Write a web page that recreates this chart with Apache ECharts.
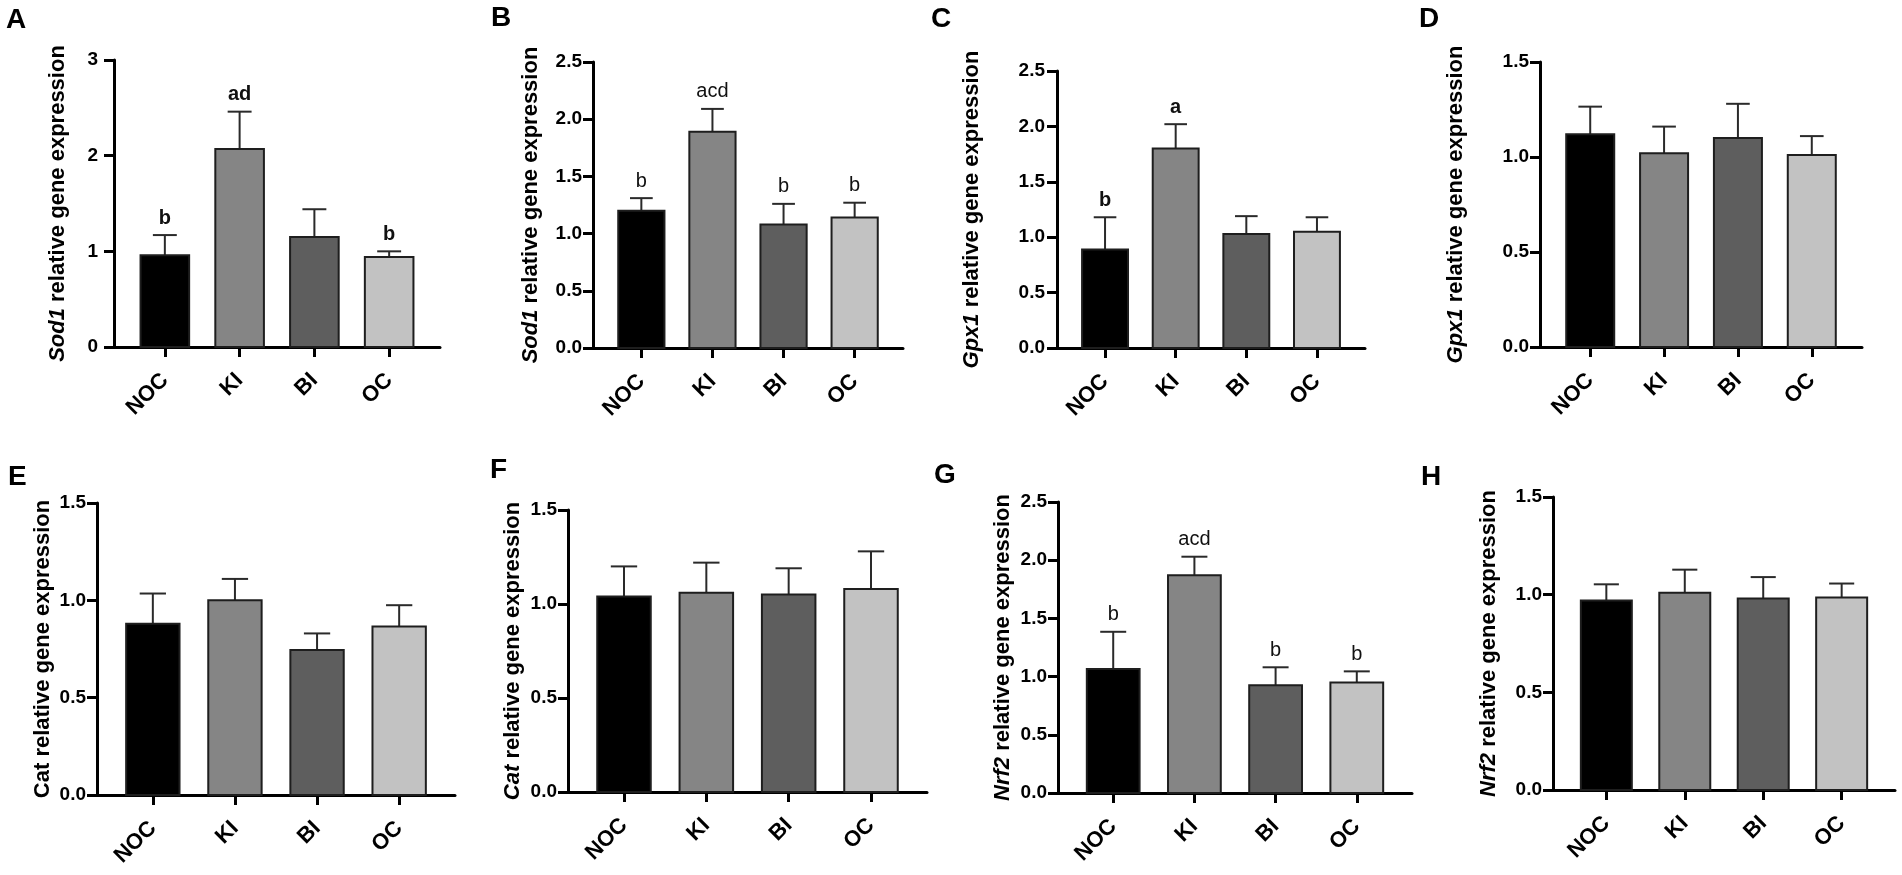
<!DOCTYPE html>
<html>
<head>
<meta charset="utf-8">
<title>Relative gene expression</title>
<script src="https://cdn.jsdelivr.net/npm/echarts@6/dist/echarts.min.js"></script>
<style>
  html, body { margin: 0; padding: 0; background: #fff; }
  #chart { width: 1902px; height: 875px; }
</style>
</head>
<body>
<div id="chart"></div>
<script>
// groups on the x axis
var groups = ['NOC', 'KI', 'BI', 'OC'];

// mean, SEM and significance letters
var sod1A = [0.96, 2.07, 1.15, 0.94];
var sod1A_sem = [0.21, 0.39, 0.29, 0.06];
var sod1A_sig = ['b', 'ad', '', 'b'];

var sod1B = [1.20, 1.89, 1.08, 1.14];
var sod1B_sem = [0.11, 0.20, 0.18, 0.13];
var sod1B_sig = ['b', 'acd', 'b', 'b'];

var gpx1C = [0.89, 1.80, 1.03, 1.05];
var gpx1C_sem = [0.29, 0.22, 0.16, 0.13];
var gpx1C_sig = ['b', 'a', '', ''];

var gpx1D = [1.12, 1.02, 1.10, 1.01];
var gpx1D_sem = [0.145, 0.14, 0.18, 0.10];

var catE = [0.88, 1.00, 0.745, 0.865];
var catE_sem = [0.155, 0.11, 0.085, 0.11];

var catF = [1.04, 1.06, 1.05, 1.08];
var catF_sem = [0.16, 0.16, 0.14, 0.20];

var nrf2G = [1.065, 1.87, 0.925, 0.95];
var nrf2G_sem = [0.32, 0.16, 0.155, 0.095];
var nrf2G_sig = ['b', 'acd', 'b', 'b'];

var nrf2H = [0.97, 1.01, 0.98, 0.985];
var nrf2H_sem = [0.083, 0.118, 0.11, 0.072];

// y axis ranges: [max, step]
var yTicksA = [3, 1];
var yTicks25 = [2.5, 0.5];
var yTicks15 = [1.5, 0.5];

var panels = [
  { tag: 'A', gene: 'Sod1', italic: true,  mean: sod1A, sem: sod1A_sem, sig: sod1A_sig, ticks: yTicksA },
  { tag: 'B', gene: 'Sod1', italic: true,  mean: sod1B, sem: sod1B_sem, sig: sod1B_sig, ticks: yTicks25 },
  { tag: 'C', gene: 'Gpx1', italic: true,  mean: gpx1C, sem: gpx1C_sem, sig: gpx1C_sig, ticks: yTicks25 },
  { tag: 'D', gene: 'Gpx1', italic: true,  mean: gpx1D, sem: gpx1D_sem, sig: null,      ticks: yTicks15 },
  { tag: 'E', gene: 'Cat',  italic: false, mean: catE,  sem: catE_sem,  sig: null,      ticks: yTicks15 },
  { tag: 'F', gene: 'Cat',  italic: true,  mean: catF,  sem: catF_sem,  sig: null,      ticks: yTicks15 },
  { tag: 'G', gene: 'Nrf2', italic: true,  mean: nrf2G, sem: nrf2G_sem, sig: nrf2G_sig, ticks: yTicks25 },
  { tag: 'H', gene: 'Nrf2', italic: true,  mean: nrf2H, sem: nrf2H_sem, sig: null,      ticks: yTicks15 }
];

// layout: grid box [left, top, width, height], name gap, label margin, tag position
var layout = [
  { box: [114, 60, 326, 287],   gap: 45, lm: 16, tagAt: [6, 6],      sigBold: true },
  { box: [593, 62, 310, 286],   gap: 51, lm: 11, tagAt: [491, 4],    sigBold: false },
  { box: [1057, 71, 308, 277],  gap: 74, lm: 12, tagAt: [931, 5],    sigBold: true },
  { box: [1540, 62, 322, 285],  gap: 73, lm: 11, tagAt: [1419, 5],   sigBold: false },
  { box: [97, 503, 358, 292],   gap: 43, lm: 11, tagAt: [8, 463],    sigBold: false },
  { box: [568, 510, 359, 282],  gap: 44, lm: 11, tagAt: [490, 456],  sigBold: false },
  { box: [1058, 502, 354, 291], gap: 44, lm: 11, tagAt: [934, 461],  sigBold: false },
  { box: [1553, 497, 342, 293], gap: 53, lm: 11, tagAt: [1421, 463], sigBold: false }
];

var FONT = '"Liberation Sans", Arial, Helvetica, sans-serif';
var PAD = 0.68;

var myChart = echarts.init(document.getElementById('chart'));

function barRenderer(params, api) {
  var x = api.value(0);
  var base = api.coord([x, 0]);
  var top = api.coord([x, api.value(1)]);
  var w = api.size([1, 0])[0] * 0.65;
  return {
    type: 'rect',
    shape: { x: top[0] - w / 2, y: top[1], width: w, height: base[1] - top[1] },
    style: { fill: ['#000000', '#858585', '#5e5e5e', '#c2c2c2'][params.dataIndex], stroke: '#1e1e1e', lineWidth: 2 }
  };
}

function errRenderer(params, api) {
  var x = api.value(0);
  var p0 = api.coord([x, api.value(1)]);
  var p1 = api.coord([x, api.value(1) + api.value(2)]);
  var cap = api.size([1, 0])[0] * 0.16;
  var st = { stroke: '#2a2a2a', lineWidth: 2 };
  return {
    type: 'group',
    children: [
      { type: 'line', shape: { x1: p0[0], y1: p0[1], x2: p1[0], y2: p1[1] }, style: st },
      { type: 'line', shape: { x1: p1[0] - cap, y1: p1[1], x2: p1[0] + cap, y2: p1[1] }, style: st }
    ]
  };
}

function sigRenderer(letters, bold) {
  return function (params, api) {
    var t = letters[params.dataIndex];
    if (!t) return null;
    var x = api.value(0);
    var p = api.coord([x, api.value(1) + api.value(2)]);
    return {
      type: 'text',
      x: p[0],
      y: p[1] - 17,
      style: {
        text: t,
        fill: '#111',
        font: (bold ? 'bold ' : '') + '20px ' + FONT,
        align: 'center',
        verticalAlign: 'middle'
      }
    };
  };
}

var option = {
  animation: false,
  backgroundColor: '#ffffff',
  title: [],
  grid: [],
  xAxis: [],
  yAxis: [],
  series: []
};

panels.forEach(function (p, k) {
  var L = layout[k];
  var max = p.ticks[0], step = p.ticks[1];

  option.title.push({
    text: p.tag,
    left: L.tagAt[0],
    top: L.tagAt[1],
    padding: 0,
    textStyle: { fontSize: 28, fontWeight: 'bold', color: '#000', fontFamily: FONT }
  });

  option.grid.push({
    left: L.box[0], top: L.box[1], width: L.box[2], height: L.box[3],
    containLabel: false, outerBoundsMode: 'none'
  });

  option.xAxis.push({
    type: 'value',
    gridIndex: k,
    min: -PAD,
    max: 3 + PAD,
    splitLine: { show: false },
    axisLine: { show: true, onZero: false, lineStyle: { color: '#000', width: 3 } },
    axisTick: { show: true, customValues: [0, 1, 2, 3], length: 10, lineStyle: { color: '#000', width: 3 } },
    axisLabel: {
      customValues: [0, 1, 2, 3],
      formatter: function (v) { return groups[Math.round(v)]; },
      rotate: 45,
      margin: 30,
      color: '#000',
      fontSize: 22,
      fontWeight: 'bold',
      fontFamily: FONT
    }
  });

  var nameTxt = p.italic ? '{i|' + p.gene + '} relative gene expression' : p.gene + ' relative gene expression';
  option.yAxis.push({
    type: 'value',
    gridIndex: k,
    min: 0,
    max: max,
    interval: step,
    name: nameTxt,
    nameLocation: 'middle',
    nameGap: L.gap,
    nameMoveOverlap: false,
    nameTextStyle: {
      fontSize: 22, fontWeight: 'bold', color: '#000', fontFamily: FONT,
      rich: { i: { fontSize: 22, fontWeight: 'bold', fontStyle: 'italic', color: '#000', fontFamily: FONT } }
    },
    splitLine: { show: false },
    axisLine: { show: true, onZero: false, lineStyle: { color: '#000', width: 3 } },
    axisTick: { show: true, length: 10, lineStyle: { color: '#000', width: 3 } },
    axisLabel: {
      margin: L.lm,
      color: '#000',
      fontSize: 19,
      fontWeight: 'bold',
      fontFamily: FONT,
      formatter: function (v) { return step >= 1 ? String(Math.round(v)) : v.toFixed(1); }
    }
  });

  var rows = p.mean.map(function (m, i) { return [i, m, p.sem[i]]; });

  option.series.push({
    type: 'custom', xAxisIndex: k, yAxisIndex: k, silent: true, z: 2,
    renderItem: barRenderer, encode: { x: 0, y: 1 }, data: rows
  });
  option.series.push({
    type: 'custom', xAxisIndex: k, yAxisIndex: k, silent: true, z: 1,
    renderItem: errRenderer, encode: { x: 0, y: 1 }, data: rows
  });
  if (p.sig) {
    option.series.push({
      type: 'custom', xAxisIndex: k, yAxisIndex: k, silent: true, z: 3,
      renderItem: sigRenderer(p.sig, L.sigBold), encode: { x: 0, y: 1 }, data: rows
    });
  }
});

myChart.setOption(option);

window.onresize = function () {
  myChart.resize();
};
</script>
</body>
</html>
